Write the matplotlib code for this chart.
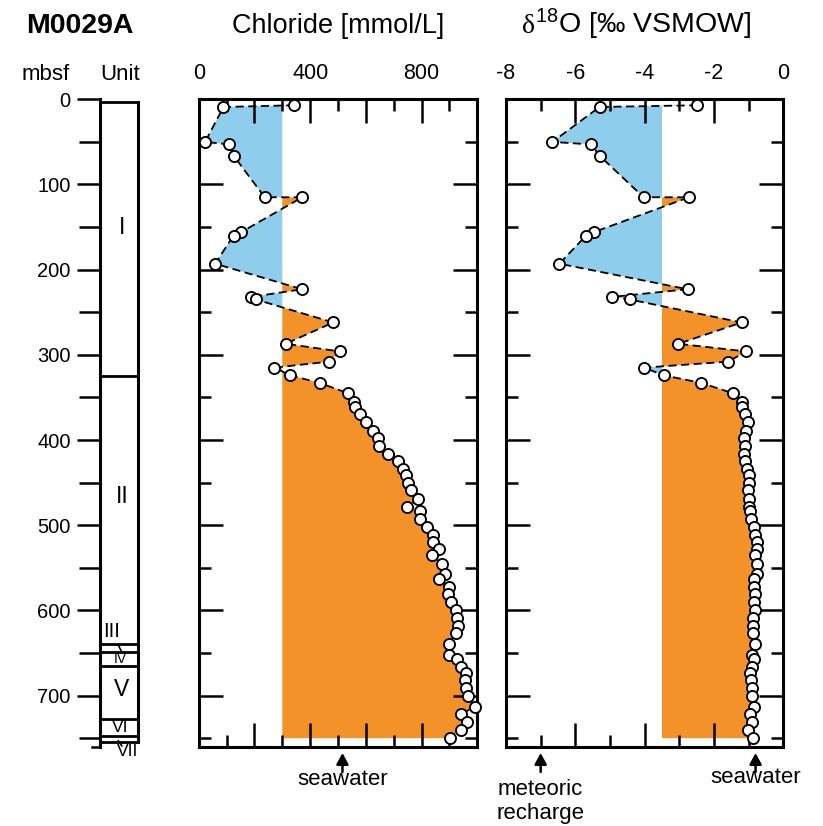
import numpy as np
import matplotlib
matplotlib.use('Agg')
import matplotlib.pyplot as plt
from matplotlib.ticker import MultipleLocator, FixedLocator, FixedFormatter

plt.rcParams['font.family'] = ['Liberation Sans', 'DejaVu Sans']
plt.rcParams['axes.unicode_minus'] = False
plt.rcParams['mathtext.fontset'] = 'custom'
plt.rcParams['mathtext.rm'] = 'Liberation Sans'
plt.rcParams['mathtext.it'] = 'Liberation Sans:italic'

# profundidad de las muestras de agua intersticial [mbsf]
depth = [7, 9, 50, 53, 67, 115, 115, 156, 160, 193,
         223, 232, 235, 262, 287, 296, 308, 315, 324, 333,
         345, 355, 361, 370, 379, 389, 398, 407, 416, 425,
         434, 441, 450, 459, 469, 479, 483, 493, 502, 511,
         520, 528, 535, 545, 557, 563, 573, 581, 590, 600,
         609, 618, 627, 640, 652, 657, 666, 674, 682, 691,
         700, 713, 722, 731, 740, 750]

# cloruro [mmol/L]
chloride = [343, 89, 23, 109, 127, 237, 372, 152, 125, 59,
            372, 188, 205, 483, 312, 507, 467, 272, 328, 434,
            536, 556, 562, 580, 602, 624, 642, 646, 679, 715,
            733, 745, 752, 763, 787, 749, 793, 793, 818, 841,
            842, 862, 839, 872, 884, 862, 898, 896, 907, 922,
            926, 929, 922, 898, 898, 926, 943, 961, 955, 960,
            967, 991, 941, 962, 941, 901]

# d18O del agua [permil VSMOW]
d18o = [-2.48, -5.30, -6.66, -5.55, -5.28, -4.03, -2.72, -5.47, -5.69, -6.46,
        -2.76, -4.95, -4.43, -1.20, -3.03, -1.07, -1.59, -4.02, -3.45, -2.36,
        -1.46, -1.20, -1.20, -1.10, -1.03, -1.08, -1.13, -1.10, -1.13, -1.10,
        -1.05, -1.00, -1.00, -1.03, -1.00, -0.98, -0.96, -0.94, -0.84, -0.81,
        -0.76, -0.75, -0.81, -0.75, -0.75, -0.84, -0.84, -0.81, -0.84, -0.81,
        -0.86, -0.86, -0.86, -0.81, -0.91, -0.84, -0.91, -0.96, -0.94, -0.91,
        -0.91, -0.84, -0.96, -0.91, -1.03, -0.86]

cl_ref = 300.
d18o_ref = -3.5
cl_seawater = 516.
d18o_seawater = -0.8
d18o_meteoric = -7.

# unidades litologicas
unit_tops = [3.5, 325, 640, 649, 665, 727, 747]
unit_base = 755
unit_names = ['I', 'II', 'III', 'IV', 'V', 'VI', 'VII']

YMAX = 760.
ORANGE = '#F39229'
BLUE = '#8ECDEB'

W, H = 823, 826
fig = plt.figure(figsize=(W / 100., H / 100.), dpi=100)

Y0, Y1 = 99.3, 746.7   # borde superior e inferior de los paneles (px)


def px_axes(x0, x1):
    return fig.add_axes([x0 / W, 1 - Y1 / H, (x1 - x0) / W, (Y1 - Y0) / H])


def ftext(x, y, s, **kw):
    return fig.text(x / W, 1 - y / H, s, **kw)


def yfrac(ypx):
    return (Y1 - ypx) / (Y1 - Y0)


def panel(ax, vals, ref, xlim, majors, labels, minor):
    x = np.asarray(vals, float)
    d = np.asarray(depth, float)
    ax.fill_betweenx(d, x, ref, where=x >= ref, interpolate=True,
                     color=ORANGE, lw=0)
    ax.fill_betweenx(d, x, ref, where=x <= ref, interpolate=True,
                     color=BLUE, lw=0)
    ax.plot(x, d, color='k', lw=1.3, dashes=(4.5, 2.5), zorder=3)
    ax.plot(x, d, 'o', ms=8, mfc='white', mec='k', mew=1.35,
            zorder=4, clip_on=False)
    ax.set_xlim(*xlim)
    ax.set_ylim(YMAX, 0)
    ax.xaxis.set_major_locator(FixedLocator(majors))
    ax.xaxis.set_major_formatter(FixedFormatter(labels))
    ax.xaxis.set_minor_locator(MultipleLocator(minor))
    ax.yaxis.set_major_locator(MultipleLocator(100))
    ax.yaxis.set_minor_locator(MultipleLocator(50))
    ax.tick_params(which='both', direction='in', top=True, bottom=True,
                   left=True, right=True, labeltop=True, labelbottom=False,
                   labelleft=False, width=1.8, labelsize=15.5, pad=11)
    ax.tick_params(which='major', length=17)
    ax.tick_params(which='minor', length=8.5)
    for s in ax.spines.values():
        s.set_linewidth(2.2)


def arrow_note(ax, x, lines):
    ax.annotate('', xy=(x, yfrac(753)), xycoords=('data', 'axes fraction'),
                xytext=(x, yfrac(772)), textcoords=('data', 'axes fraction'),
                arrowprops=dict(arrowstyle='-|>,head_length=0.55,head_width=0.3',
                                lw=1.8, color='k', shrinkA=0, shrinkB=0,
                                mutation_scale=12),
                annotation_clip=False)
    for s, ypx in lines:
        ax.text(x, yfrac(ypx), s, transform=ax.get_xaxis_transform(),
                ha='center', va='baseline', fontsize=16)


# ---------------------
# Cloruro
# ---------------------
ax1 = px_axes(198.7, 477.3)
panel(ax1, chloride, cl_ref, (0, 1000), list(range(0, 1001, 200)),
      ['0', '', '400', '', '800', ''], 100)
arrow_note(ax1, cl_seawater, [('seawater', 785)])

# ---------------------
# d18O
# ---------------------
ax2 = px_axes(506, 783.3)
panel(ax2, d18o, d18o_ref, (-8, 0), [-8, -6, -4, -2, 0],
      ['-8', '-6', '-4', '-2', '0'], 1)
arrow_note(ax2, d18o_meteoric, [('meteoric', 795), ('recharge', 819)])
arrow_note(ax2, d18o_seawater, [('seawater', 783)])

# ---------------------
# Columna de unidades y eje de profundidad
# ---------------------
axu = px_axes(100, 138.3)
axu.set_xlim(0, 1)
axu.set_ylim(YMAX, 0)
for s in ['top', 'right', 'bottom']:
    axu.spines[s].set_visible(False)
axu.spines['left'].set_linewidth(2.2)
axu.set_xticks([])
axu.yaxis.set_major_locator(MultipleLocator(100))
axu.yaxis.set_minor_locator(MultipleLocator(50))
axu.tick_params(axis='y', which='both', direction='out', width=1.8,
                labelsize=14.5, pad=4.5)
axu.tick_params(axis='y', which='major', length=16.5)
axu.tick_params(axis='y', which='minor', length=15)
axu.plot([-0.21, 0], [YMAX, YMAX], color='k', lw=1.8, clip_on=False)

for b in unit_tops + [unit_base]:
    axu.plot([0, 1], [b, b], color='k', lw=2, clip_on=False)
axu.plot([1, 1], [unit_tops[0], unit_base], color='k', lw=2.2, clip_on=False)

label_pos = [(0.57, 151, 16.5), (0.57, 466, 16.5), (0.31, 625, 14.5),
             (0.52, 657, 10), (0.57, 693, 16.5), (0.52, 738, 12.5),
             (0.73, 766, 12.5)]
for name, (xu, yu, fs) in zip(unit_names, label_pos):
    axu.text(xu, yu, name, ha='center', va='center', fontsize=fs,
             clip_on=False, zorder=1)
axu.plot([0.48, 0.57], [641, 649], color='k', lw=1.2, clip_on=False)
axu.plot([0.48, 0.57], [753, 759], color='k', lw=1.2, clip_on=False)

# ---------------------
# Titulos
# ---------------------
ftext(80, 33, 'M0029A', ha='center', va='baseline', fontsize=20.5,
      weight='bold')
ftext(338, 33, 'Chloride [mmol/L]', ha='center', va='baseline', fontsize=19.5)
ftext(535, 33, 'δ', ha='right', va='baseline', fontsize=20,
      family='Liberation Serif')
ftext(535, 33, r'$^{\mathrm{18}}$O [‰ VSMOW]', ha='left', va='baseline',
      fontsize=20.5)
ftext(46, 80, 'mbsf', ha='center', va='baseline', fontsize=16)
ftext(120, 80, 'Unit', ha='center', va='baseline', fontsize=16)

fig.savefig('out.png', dpi=100)
